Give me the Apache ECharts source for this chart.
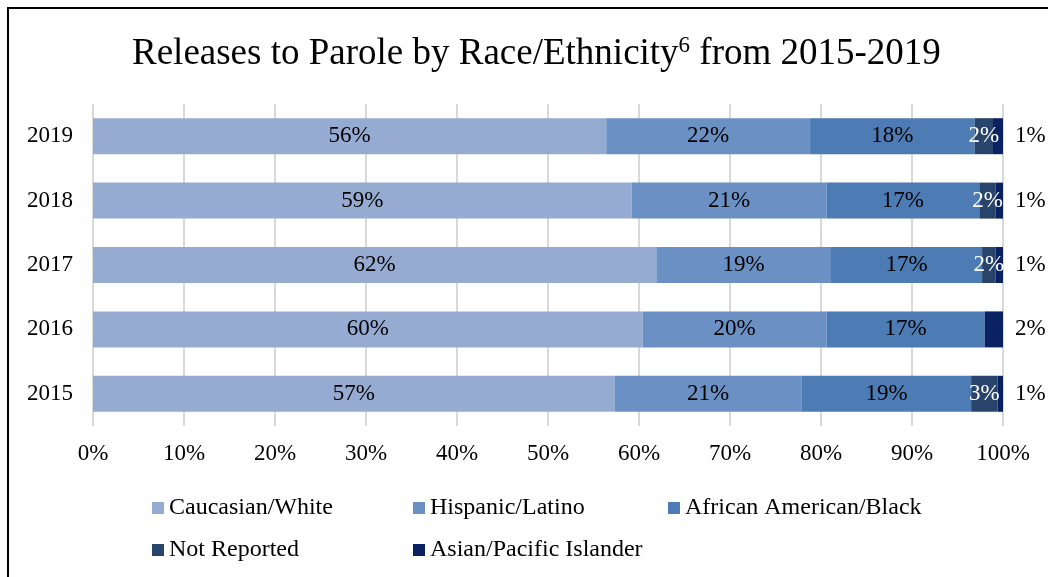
<!DOCTYPE html>
<html>
<head>
<meta charset="utf-8">
<script src="https://cdn.jsdelivr.net/npm/echarts@6/dist/echarts.min.js"></script>
<style>html,body{margin:0;padding:0;background:#fff}#c{width:1048px;height:577px}</style>
</head>
<body>
<div id="c"></div>
<script>
var years = ['2015', '2016', '2017', '2018', '2019'];
var seriesNames = ['Caucasian/White', 'Hispanic/Latino', 'African American/Black', 'Not Reported', 'Asian/Pacific Islander'];
var caucasian = [57.3, 60.4, 61.9, 59.2, 56.4];
var hispanic = [20.6, 20.2, 19.2, 21.4, 22.4];
var african = [18.6, 17.4, 16.6, 16.8, 18.1];
var notReported = [2.9, 0, 1.5, 1.8, 2.0];
var asian = [0.6, 2.0, 0.8, 0.8, 1.1];
var xTicks = [0, 10, 20, 30, 40, 50, 60, 70, 80, 90, 100];

var colors = ['#95abd1', '#6b91c4', '#4d7bb3', '#28446a', '#0b2262'];
var FONT = 'Liberation Serif';
var FS = 23;
var values = [caucasian, hispanic, african, notReported, asian];

var series = seriesNames.map(function (name, i) {
  var label = {
    show: true,
    position: 'inside',
    fontFamily: FONT,
    fontSize: FS,
    color: '#000',
    formatter: function (p) { return p.value > 0 ? Math.round(p.value) + '%' : ''; }
  };
  if (i === 3) { label.color = '#fff'; }
  if (i === 4) { label.position = 'right'; label.distance = 12; }
  return {
    name: name,
    type: 'bar',
    stack: 'total',
    barWidth: 36,
    itemStyle: { color: colors[i] },
    label: label,
    data: values[i]
  };
});

var legendPos = [
  { left: 152, top: 496 }, { left: 413, top: 496 }, { left: 668, top: 496 },
  { left: 152, top: 538 }, { left: 413, top: 538 }
];
var legends = seriesNames.map(function (n, i) {
  return {
    data: [n],
    left: legendPos[i].left,
    top: legendPos[i].top,
    padding: 0,
    icon: 'rect',
    itemWidth: 12,
    itemHeight: 12,
    textStyle: { fontFamily: FONT, fontSize: 24, color: '#000' },
    selectedMode: false
  };
});

var chart = echarts.init(document.getElementById('c'));
chart.setOption({
  animation: false,
  color: colors,
  title: {
    text: '{a|Releases to Parole by Race/Ethnicity}{s|6}{a| from 2015-2019}',
    left: 127,
    top: 26,
    textStyle: {
      fontWeight: 'normal',
      rich: {
        a: { fontFamily: FONT, fontSize: 37, fontWeight: 'normal', color: '#000', lineHeight: 42, verticalAlign: 'bottom' },
        s: { fontFamily: FONT, fontSize: 23, fontWeight: 'normal', color: '#000', lineHeight: 42, verticalAlign: 'top', padding: [3, 0, 0, 0] }
      }
    }
  },
  legend: legends,
  grid: { left: 93, right: 45, top: 104, bottom: 151, containLabel: false },
  xAxis: {
    type: 'value',
    min: 0,
    max: 100,
    interval: 10,
    axisLine: { show: false },
    axisTick: { show: false },
    splitLine: { show: true, lineStyle: { color: '#d9d9d9', width: 2 } },
    axisLabel: {
      fontFamily: FONT, fontSize: FS, color: '#000', margin: 16,
      formatter: function (v) { return xTicks.indexOf(v) >= 0 ? v + '%' : ''; }
    }
  },
  yAxis: {
    type: 'category',
    data: years,
    axisLine: { show: false },
    axisTick: { show: false },
    axisLabel: { fontFamily: FONT, fontSize: FS, color: '#000', margin: 20 }
  },
  graphic: [{
    type: 'rect',
    shape: { x: 8, y: 8, width: 1100, height: 700 },
    style: { fill: 'none', stroke: '#000', lineWidth: 2 },
    silent: true
  }],
  series: series
});
</script>
</body>
</html>
